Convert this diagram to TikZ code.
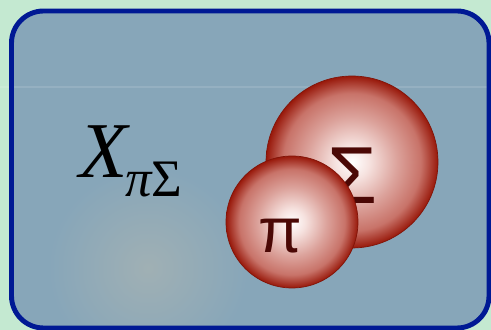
\documentclass[tikz,border=0pt]{standalone}
\usepackage{fontspec}
\newfontfamily\serifgr{Liberation Serif}
\newfontfamily\sansgr{Liberation Sans}
\usetikzlibrary{positioning}
\definecolor{bggreen}{RGB}{196,233,209}
\definecolor{panel}{RGB}{135,166,185}
\definecolor{frameblue}{RGB}{0,25,148}
\definecolor{glow}{RGB}{160,176,180}
\definecolor{ballred}{RGB}{152,24,10}
\definecolor{ballmid}{RGB}{200,115,105}
\definecolor{ballpink}{RGB}{220,163,156}
\definecolor{ballhi}{RGB}{246,226,223}
\definecolor{symdark}{RGB}{75,8,5}
\pgfdeclareradialshading{redball}{\pgfpoint{0bp}{0bp}}{color(0bp)=(white); color(5bp)=(ballhi); color(13bp)=(ballpink); color(20bp)=(ballmid); color(25bp)=(ballred); color(50bp)=(ballred)}

\begin{document}
\begin{tikzpicture}[x=0.02cm,y=-0.02cm,
    panelbox/.style={rounded corners=0.64cm},
    ball/.style={circle,draw=ballred!85!black,line width=0.4pt,shading=redball,inner sep=0pt},
    sym/.style={inner sep=0pt,text=symdark,font=\sansgr},
    lbl/.style={inner sep=0pt,text=black,font=\serifgr}]
    \useasboundingbox[fill=bggreen] (0,0) rectangle (491,330);
    % panel with soft glow
    \fill[panel,panelbox] (11.5,11) rectangle (489,328);
    \begin{scope}
      \clip[panelbox] (11.5,11) rectangle (489,328);
      \shade[inner color=glow,outer color=panel] (148,268) circle (100);
    \end{scope}
    \draw[white,opacity=0.12,line width=1.2pt] (0,87) -- (491,87);
    \draw[frameblue,line width=2.8pt,panelbox] (11.5,11) rectangle (489,328);
    % label
    \node[lbl,anchor=base west] (xsym) at (79,178) {\fontsize{45}{45}\selectfont\itshape X};
    \node[lbl,anchor=base west] (xsub) at (125,197) {\fontsize{30}{30}\selectfont\itshape π\upshape Σ};
    % balls
    \node[ball,minimum size=3.44cm] (sigball) at (352,162) {};
    \node[sym,font=\sansgr\fontsize{46}{46}\selectfont] (sig) at (352,176) {Σ};
    \node[ball,minimum size=2.64cm] (piball) at (292,222) {};
    \node[sym,font=\sansgr\fontsize{36}{36}\selectfont] (pi) at (280,236) {π};
\end{tikzpicture}
\end{document}
